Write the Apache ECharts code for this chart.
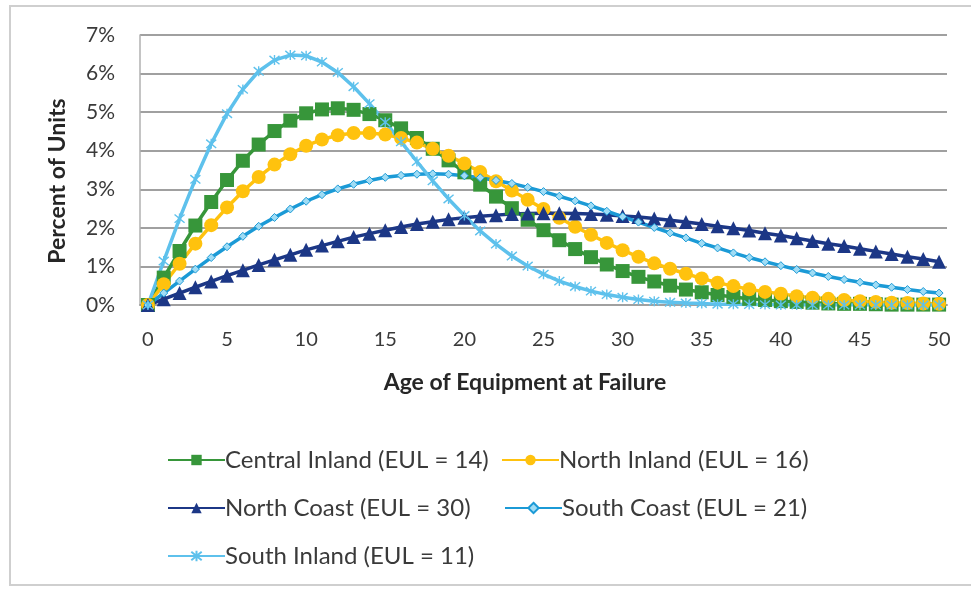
<!DOCTYPE html>
<html>
<head>
<meta charset="utf-8">
<script src="https://cdn.jsdelivr.net/npm/echarts@6/dist/echarts.min.js"></script>
<style>
  html, body { margin: 0; padding: 0; background: #ffffff; }
  #chart { width: 971px; height: 589px; }
</style>
</head>
<body>
<div id="chart"></div>
<script>
// Age of equipment at failure, in years (one category per year)
const ages = [];
for (let a = 0; a <= 50; a++) ages.push(String(a));

// Y axis tick values, percent of units
const yTicks = [0, 1, 2, 3, 4, 5, 6, 7];

// Failure distributions by region, percent of units failing at each age
const centralInland = [0, 0.71, 1.40, 2.06, 2.67, 3.24, 3.74, 4.16, 4.51, 4.78, 4.97, 5.07, 5.10, 5.06, 4.95, 4.79, 4.58, 4.33, 4.05, 3.75, 3.44, 3.12, 2.81, 2.51, 2.21, 1.94, 1.68, 1.45, 1.24, 1.05, 0.88, 0.73, 0.61, 0.50, 0.40, 0.33, 0.26, 0.21, 0.16, 0.13, 0.10, 0.08, 0.06, 0.04, 0.03, 0.03, 0.02, 0.01, 0.01, 0.01, 0.01];
const northInland = [0, 0.54, 1.07, 1.59, 2.07, 2.53, 2.95, 3.32, 3.64, 3.91, 4.13, 4.29, 4.40, 4.46, 4.46, 4.42, 4.33, 4.21, 4.05, 3.87, 3.67, 3.45, 3.21, 2.97, 2.73, 2.49, 2.26, 2.03, 1.82, 1.61, 1.42, 1.25, 1.08, 0.94, 0.81, 0.69, 0.58, 0.49, 0.41, 0.34, 0.29, 0.23, 0.19, 0.16, 0.13, 0.10, 0.08, 0.06, 0.05, 0.04, 0.03];
const northCoast = [0, 0.15, 0.31, 0.46, 0.61, 0.76, 0.90, 1.04, 1.17, 1.30, 1.43, 1.54, 1.65, 1.76, 1.85, 1.94, 2.02, 2.10, 2.16, 2.22, 2.26, 2.30, 2.33, 2.36, 2.37, 2.38, 2.38, 2.37, 2.36, 2.34, 2.31, 2.28, 2.24, 2.20, 2.15, 2.10, 2.04, 1.99, 1.93, 1.86, 1.80, 1.73, 1.66, 1.59, 1.53, 1.46, 1.39, 1.32, 1.25, 1.19, 1.12];
const southCoast = [0, 0.31, 0.62, 0.93, 1.23, 1.51, 1.78, 2.04, 2.27, 2.49, 2.69, 2.86, 3.01, 3.13, 3.23, 3.31, 3.36, 3.39, 3.40, 3.39, 3.35, 3.30, 3.23, 3.15, 3.05, 2.94, 2.82, 2.70, 2.57, 2.43, 2.29, 2.15, 2.01, 1.87, 1.74, 1.60, 1.48, 1.35, 1.23, 1.12, 1.02, 0.92, 0.83, 0.74, 0.66, 0.59, 0.52, 0.46, 0.40, 0.35, 0.31];
const southInland = [0, 1.14, 2.24, 3.26, 4.18, 4.96, 5.59, 6.06, 6.35, 6.48, 6.46, 6.30, 6.03, 5.66, 5.22, 4.74, 4.23, 3.72, 3.22, 2.75, 2.32, 1.92, 1.58, 1.27, 1.01, 0.80, 0.62, 0.48, 0.36, 0.27, 0.20, 0.14, 0.10, 0.07, 0.05, 0.04, 0.02, 0.02, 0.01, 0.01, 0, 0, 0, 0, 0, 0, 0, 0, 0, 0, 0];

const seriesNames = [
  'Central Inland (EUL = 14)',
  'North Inland (EUL = 16)',
  'North Coast (EUL = 30)',
  'South Coast (EUL = 21)',
  'South Inland (EUL = 11)'
];

const FONT = 'Lato, "Open Sans", sans-serif';
const TEXT = '#3a3a3a';
const starPath = 'path://M0,0 L10,10 M10,0 L0,10 M5,-1 L5,11';

const chart = echarts.init(document.getElementById('chart'), null, { renderer: 'canvas' });

function lineSeries(name, data, color, symbol, size, extra) {
  return Object.assign({
    name: name,
    type: 'line',
    data: data,
    symbol: symbol,
    symbolSize: size,
    showAllSymbol: true,
    animation: false,
    lineStyle: { color: color, width: 3.5 },
    itemStyle: { color: color }
  }, extra || {});
}

function legendAt(name, left, top) {
  return {
    data: [name],
    left: left,
    top: top,
    itemWidth: 57,
    itemHeight: 13,
    itemGap: 0,
    textStyle: { fontFamily: FONT, fontSize: 24, color: TEXT, padding: [0, 0, 0, -5] }
  };
}

chart.setOption({
  backgroundColor: '#ffffff',
  animation: false,
  grid: { left: 140, right: 24, top: 35, bottom: 284 },
  xAxis: {
    type: 'category',
    data: ages,
    boundaryGap: true,
    axisLine: { lineStyle: { color: '#a0a0a0', width: 2 } },
    axisTick: { interval: 0, length: 6, lineStyle: { color: '#a0a0a0', width: 1.5 } },
    axisLabel: { interval: 4, margin: 25, fontFamily: FONT, fontSize: 20, color: TEXT },
    splitLine: { show: false }
  },
  yAxis: {
    type: 'value',
    min: yTicks[0],
    max: yTicks[yTicks.length - 1],
    interval: 1,
    axisLine: { show: true, lineStyle: { color: '#b0b0b0', width: 1.5 } },
    axisTick: { show: false },
    axisLabel: { formatter: '{value}%', margin: 25, fontFamily: FONT, fontSize: 21, color: TEXT },
    splitLine: { lineStyle: { color: '#a0a0a0', width: 2 } }
  },
  legend: [
    legendAt(seriesNames[0], 162, 443),
    legendAt(seriesNames[1], 496, 443),
    legendAt(seriesNames[2], 162, 491),
    legendAt(seriesNames[3], 499, 491),
    legendAt(seriesNames[4], 162, 539)
  ],
  graphic: [
    {
      type: 'rect',
      shape: { x: 10, y: 6, width: 980, height: 579 },
      style: { fill: 'none', stroke: '#cfcfcf', lineWidth: 2 },
      silent: true, z: -10
    },
    {
      type: 'text',
      x: 58, y: 181, rotation: Math.PI / 2,
      style: { text: 'Percent of Units', font: 'bold 23px ' + FONT, fill: '#262626', align: 'center', verticalAlign: 'middle' }
    },
    {
      type: 'text',
      x: 525, y: 383,
      style: { text: 'Age of Equipment at Failure', font: 'bold 23px ' + FONT, fill: '#262626', align: 'center', verticalAlign: 'middle' }
    }
  ],
  series: [
    lineSeries(seriesNames[0], centralInland, '#37963a', 'rect', 14),
    lineSeries(seriesNames[1], northInland, '#ffc20e', 'circle', 14),
    lineSeries(seriesNames[2], northCoast, '#1c3786', 'triangle', 14),
    lineSeries(seriesNames[3], southCoast, '#1b9ad6', 'diamond', 8, {
      itemStyle: { color: '#9fdcf5', borderColor: '#1b9ad6', borderWidth: 1 }
    }),
    lineSeries(seriesNames[4], southInland, '#5ec1ec', starPath, 10, {
      itemStyle: { color: '#5ec1ec', borderColor: '#5ec1ec', borderWidth: 1.4 }
    })
  ]
});
</script>
</body>
</html>
